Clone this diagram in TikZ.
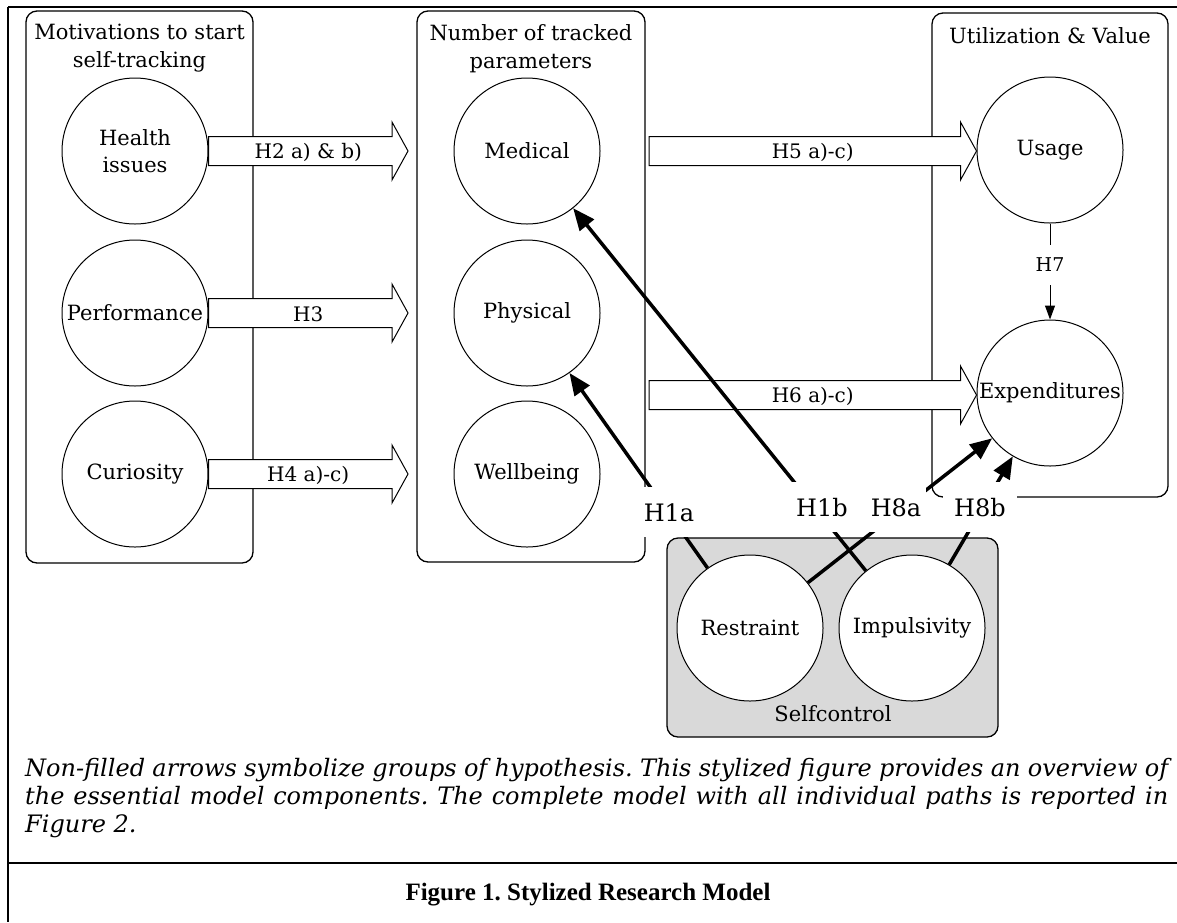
\documentclass[tikz,border=0pt]{standalone}
\usepackage{fontspec}
\setmainfont{DejaVu Serif}
\newfontfamily\figtitlefont{Liberation Serif}
\usetikzlibrary{arrows.meta,calc}
\definecolor{boxgray}{HTML}{D9D9D9}
\begin{document}
\frenchspacing
\begin{tikzpicture}[x=1pt,y=-1pt,
  group/.style={draw, line width=1.3pt, rounded corners=11pt},
  circ/.style={circle, draw, line width=1pt, fill=white, minimum size=146pt, inner sep=0pt, align=center, font=\fontsize{21}{27}\selectfont},
  ttl/.style={align=center, inner sep=0pt, font=\fontsize{21}{28}\selectfont},
  hollow/.style={draw, line width=1pt, fill=white,
    to path={let \p1=(\tikztostart), \p2=(\tikztotarget) in
      (\x1,\y1+14.5pt) -- (\x2-16pt,\y1+14.5pt) -- (\x2-16pt,\y1+29pt) -- (\x2,\y1)
      -- (\x2-16pt,\y1-29pt) -- (\x2-16pt,\y1-14.5pt) -- (\x1,\y1-14.5pt) -- cycle}},
  alab/.style={inner sep=0pt, font=\fontsize{20}{22}\selectfont},
  thickarrow/.style={line width=3.5pt, -{Triangle[length=22pt,width=18pt]}},
  thinarrow/.style={line width=1pt, -{Triangle[length=14pt,width=10pt]}},
  hlab/.style={fill=white, inner ysep=0pt, inner xsep=5pt, text height=19pt, text depth=0pt, minimum height=50pt, font=\fontsize{24}{24}\selectfont},
]
\useasboundingbox (0,0) rectangle (1177,922);

% outer frame
\coordinate (fTL) at (8,7);
\coordinate (fTR) at (1177,7);
\coordinate (fBL) at (8,922);
\coordinate (rL) at (8,863);
\coordinate (rR) at (1177,863);
\draw[line width=1.5pt] (fTL) -- (fTR);
\draw[line width=2pt] (fTL) -- (fBL);
\draw[line width=2pt] (rL) -- (rR);

% group boxes
\draw[group] (26,11) rectangle (253,563);
\draw[group] (417,11) rectangle (645,562);
\draw[group] (932,13) rectangle (1168,497);
\draw[group, fill=boxgray] (667,538) rectangle (998,737);

% titles
\node[ttl, anchor=north] (t1) at (139.5,24) {Motivations to start\\self-tracking};
\node[ttl, anchor=north] (t2) at (531,24) {Number of tracked\\parameters};
\node[ttl, anchor=base] (t3) at (1050,43) {Utilization \& Value};

% circles
\node[circ] (health) at (135,151) {Health\\issues};
\node[circ] (perf) at (135,313) {Performance};
\node[circ] (cur) at (135,474) {Curiosity};
\node[circ] (med) at (527,151) {Medical};
\node[circ] (phys) at (527,313) {Physical};
\node[circ] (well) at (527,474) {Wellbeing};
\node[circ] (usage) at (1050,150) {Usage};
\node[circ] (exp) at (1050,393) {Expenditures};
\node[circ] (restr) at (750,628) {Restraint};
\node[circ] (impul) at (912,628) {Impulsivity};
\node[ttl, anchor=center] (selfc) at (833,714) {Selfcontrol};

% hollow group arrows
\coordinate (h2t) at (408,151);
\coordinate (h3t) at (408,313);
\coordinate (h4t) at (408,474);
\coordinate (h5s) at (649,151);
\coordinate (h6s) at (649,395);
\path[hollow] (health.east) to (h2t);
\path[hollow] (perf.east) to (h3t);
\path[hollow] (cur.east) to (h4t);
\path[hollow] (h5s) to (usage.west |- h5s);
\path[hollow] (h6s) to (exp.west |- h6s);
\node[alab] (l2) at ($(health.east)!0.5!(h2t)+(0,1)$) {H2 a) \& b)};
\node[alab] (l3) at ($(perf.east)!0.5!(h3t)+(0,1)$) {H3};
\node[alab] (l4) at ($(cur.east)!0.5!(h4t)+(0,1)$) {H4 a)-c)};
\node[alab] (l5) at ($(h5s)!0.5!(usage.west |- h5s)+(0,1)$) {H5 a)-c)};
\node[alab] (l6) at ($(h6s)!0.5!(exp.west |- h6s)+(0,1)$) {H6 a)-c)};

% H7
\draw[thinarrow] (usage) -- (exp);
\node[fill=white, inner xsep=3pt, minimum height=40pt, font=\fontsize{19}{22}\selectfont] (l7) at (1050,265) {H7};

% single hypotheses
\draw[thickarrow] (restr) -- (phys);
\draw[thickarrow] (impul) -- (med);
\draw[thickarrow] (restr) -- (exp);
\draw[thickarrow] (impul) -- (exp);
\node[hlab] (l1a) at (669,512) {H1a};
\node[hlab] (l1b) at (822,507) {H1b};
\node[hlab] (l8a) at (896,507) {H8a};
\node[hlab, inner xsep=11pt] (l8b) at (980,507) {H8b};

% caption
\node[anchor=north west, text width=1143pt, inner sep=0pt, align=justify,
      font=\itshape\fontsize{24}{28}\selectfont] (cap) at (25,758)
  {Non-filled arrows symbolize groups of hypothesis. This stylized figure provides an overview of\linebreak
   the essential model components. The complete model with all individual paths is reported in\linebreak
   Figure 2.};
\node[anchor=base, inner sep=0pt, font=\figtitlefont\bfseries\fontsize{25}{26}\selectfont] (figt) at (588,900) {Figure 1. Stylized Research Model};
\end{tikzpicture}
\end{document}
